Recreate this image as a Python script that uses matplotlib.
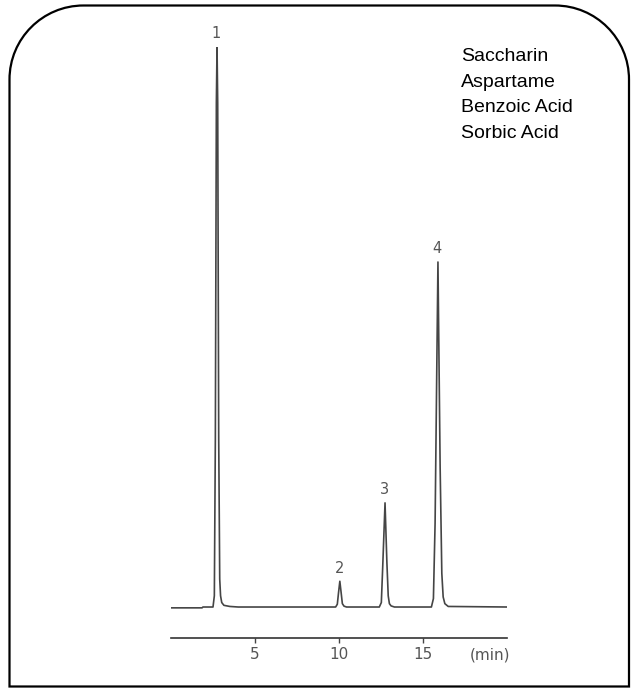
import matplotlib
matplotlib.use("Agg")
import matplotlib.pyplot as plt
from matplotlib.path import Path
from matplotlib.patches import PathPatch

# Chromatogram trace (time in min, signal in relative units, peak 1 = 100)
trace_time = [0.0, 1.85, 1.90, 2.50, 2.58, 2.64, 2.70, 2.74, 2.78, 2.84, 2.90, 2.95, 3.02, 3.15, 3.50, 4.00,
              9.80, 9.90, 9.97, 10.05, 10.13, 10.20, 10.30, 10.45,
              12.40, 12.52, 12.60, 12.74, 12.85, 12.93, 13.00, 13.10, 13.30,
              15.50, 15.62, 15.72, 15.89, 16.02, 16.12, 16.20, 16.30, 16.50, 20.0]
trace_signal = [-0.15, -0.15, 0.0, 0.0, 2.0, 30.0, 90.0, 100.0, 90.0, 30.0, 5.0, 2.0, 0.8, 0.3, 0.1, 0.0,
                0.0, 0.5, 2.5, 4.6, 2.5, 0.6, 0.15, 0.0,
                0.0, 0.8, 7.0, 18.6, 8.0, 2.0, 0.6, 0.2, 0.0,
                0.0, 1.5, 15.0, 61.6, 25.0, 6.0, 1.8, 0.6, 0.1, 0.0]

peak_labels = ["1", "2", "3", "4"]
peak_times = [2.74, 10.05, 12.74, 15.89]
peak_heights = [100.0, 4.6, 18.6, 61.6]

compounds = ["Saccharin", "Aspartame", "Benzoic Acid", "Sorbic Acid"]
tick_values = [5, 10, 15]

W, H = 632, 688
fig = plt.figure(figsize=(W / 100, H / 100), dpi=100)
fig.patch.set_facecolor("white")

# axes placed so that 0-20 min spans the drawn time axis
ax = fig.add_axes([171 / W, (H - 637.7) / H, 336 / W, 590.7 / H])
ax.set_facecolor("none")
ax.plot(trace_time, trace_signal, color="#454545", lw=1.2, solid_joinstyle="round")
ax.set_xlim(0, 20)
ax.set_ylim(-5.48, 100)

for lab, t, h in zip(peak_labels, peak_times, peak_heights):
    ax.annotate(lab, (t, h), xytext=(-0.5, 9.5), textcoords="offset points",
                ha="center", va="center", fontsize=10.5, color="#555555")

for s in ["left", "top", "right"]:
    ax.spines[s].set_visible(False)
ax.spines["bottom"].set_color("#333333")
ax.spines["bottom"].set_linewidth(1.2)
ax.set_yticks([])
ax.set_xticks(tick_values)
ax.set_xticklabels([str(v) for v in tick_values])
ax.tick_params(axis="x", direction="out", length=3.5, width=1.0, color="#444444",
               labelsize=11, labelcolor="#555555", pad=3.5)
fig.text(490 / W, 1 - 654.5 / H, "(min)", ha="center", va="center",
         fontsize=11, color="#555555")

# compound list, top right
for i, name in enumerate(compounds):
    fig.text(461 / W, 1 - (60.7 + 25.9 * i) / H, name, ha="left", va="baseline",
             fontsize=14, family="Liberation Sans", color="black")

# frame with rounded top corners
x0, x1 = 9.5 / W, 629 / W
y0, y1 = 1 - 686.5 / H, 1 - 5.5 / H
rx, ry = 74 / W, 74 / H
k = 0.5523
verts = [(x0, y0), (x0, y1 - ry),
         (x0, y1 - ry + k * ry), (x0 + rx - k * rx, y1), (x0 + rx, y1),
         (x1 - rx, y1),
         (x1 - rx + k * rx, y1), (x1, y1 - ry + k * ry), (x1, y1 - ry),
         (x1, y0), (x0, y0)]
codes = [Path.MOVETO, Path.LINETO,
         Path.CURVE4, Path.CURVE4, Path.CURVE4,
         Path.LINETO,
         Path.CURVE4, Path.CURVE4, Path.CURVE4,
         Path.LINETO, Path.CLOSEPOLY]
frame = PathPatch(Path(verts, codes), transform=fig.transFigure, facecolor="none",
                  edgecolor="black", lw=1.6)
fig.add_artist(frame)

fig.savefig("out.png", dpi=100)
